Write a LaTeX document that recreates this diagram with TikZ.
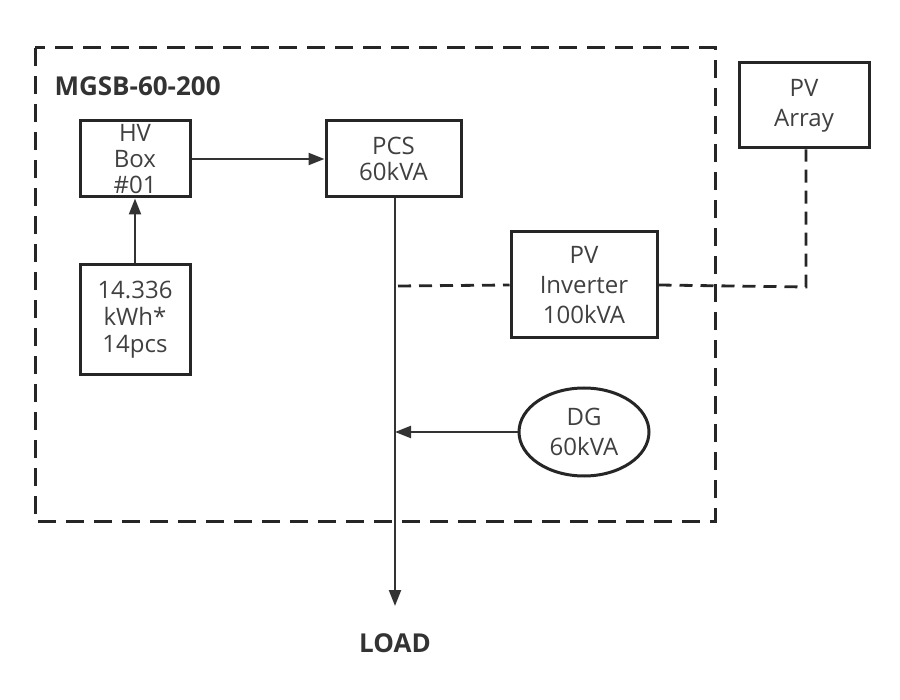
\documentclass[tikz,border=0pt]{standalone}
\usepackage{fontspec}
\setmainfont{Open Sans}
\usetikzlibrary{arrows.meta,shapes.geometric}
\begin{document}
\begin{tikzpicture}[x=1pt,y=-1pt,
  box/.style={draw=black!85,line width=3pt,minimum width=#1,align=center,inner sep=0pt,font=\fontsize{24}{26}\selectfont,text=black!75},
  conn/.style={draw=black!80,line width=2.2pt},
  arr/.style={conn,-{Triangle[length=16pt,width=12pt]}},
  dconn/.style={draw=black!85,line width=2.8pt,dash pattern=on 13pt off 8pt},
  lbl/.style={font=\fontsize{26}{30}\selectfont\bfseries,text=black!80}]
\useasboundingbox (0,0) rectangle (900,700);
\draw[draw=black!85,line width=3pt,dash pattern=on 18pt off 10pt] (35,48) rectangle (715,521);
\node[lbl,anchor=west] (title) at (51,86) {MGSB-60-200};
\node[box=110pt,minimum height=76pt] (hv) at (135,159) {HV\\Box\\\#01};
\node[box=135pt,minimum height=76pt] (pcs) at (393.5,159) {PCS\\60kVA};
\node[box=110pt,minimum height=110pt,font=\fontsize{24}{27}\selectfont] (bat) at (135,320) {14.336\\kWh*\\14pcs};
\node[box=146pt,minimum height=106pt,font=\fontsize{24}{30}\selectfont] (inv) at (584,285) {PV\\Inverter\\100kVA};
\node[box=130pt,minimum height=85pt,font=\fontsize{24}{30}\selectfont] (arr) at (804,105.5) {PV\\Array};
\node[draw=black!85,line width=3pt,ellipse,minimum width=130pt,minimum height=88pt,inner sep=0pt,align=center,font=\fontsize{24}{30}\selectfont,text=black!75] (dg) at (584,432) {DG\\60kVA};
\node[lbl] (load) at (395,643) {LOAD};
\coordinate (busTop) at (395,197);
\coordinate (busEnd) at (395,606);
\coordinate (busDG) at (395,432);
\coordinate (busPV) at (398,286);
\coordinate (corner) at (806,287);
\draw[arr] (hv.east) -- (pcs.west);
\draw[arr] (bat.north) -- (hv.south);
\draw[arr] (pcs.south -| busTop) -- (busEnd);
\draw[arr] (dg.west) -- (busDG);
\draw[dconn] (busPV) -- (inv.west);
\draw[dconn] (inv.east) -- (corner) -- (corner |- arr.south);
\end{tikzpicture}
\end{document}
